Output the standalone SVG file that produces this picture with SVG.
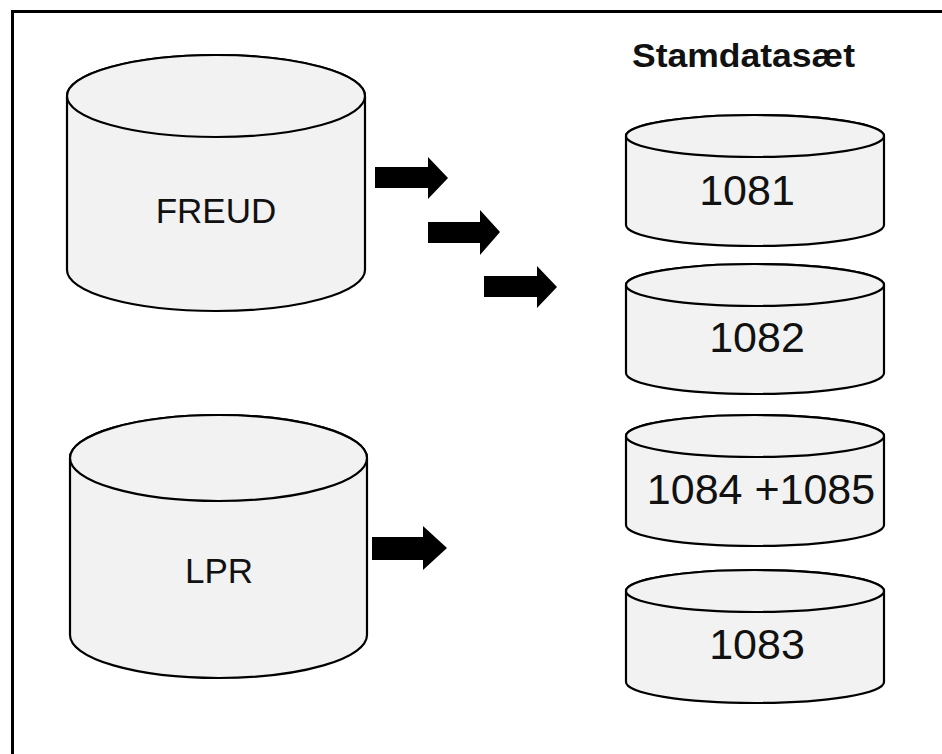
<svg xmlns="http://www.w3.org/2000/svg" width="942" height="754" viewBox="0 0 942 754">
<style>
.cyl{fill:#f2f2f2;stroke:#000;stroke-width:2.2}
.lbl{font-family:"Liberation Sans",Arial,sans-serif;fill:#111;text-anchor:middle}
.arr{fill:#000}
</style>
<rect width="942" height="754" fill="#fff"/>
<g id="frame">
<rect x="11" y="10" width="931" height="3" fill="#000"/>
<rect x="11" y="10" width="3" height="744" fill="#000"/>
</g>
<text x="632" y="67" font-family="Liberation Sans,Arial,sans-serif" font-weight="bold" font-size="33" textLength="223" lengthAdjust="spacingAndGlyphs" fill="#111">Stamdatasæt</text>
<g id="freud">
<path class="cyl" d="M67,96 A149,41 0 0 1 365,96 V270 A149,41 0 0 1 67,270 Z"/>
<ellipse class="cyl" cx="216" cy="96" rx="149" ry="41"/>
<text class="lbl" x="216" y="223" font-size="35">FREUD</text>
</g>
<g id="lpr">
<path class="cyl" d="M70,458 A148.5,43 0 0 1 367,458 V635 A148.5,43 0 0 1 70,635 Z"/>
<ellipse class="cyl" cx="218.5" cy="458" rx="148.5" ry="43"/>
<text class="lbl" x="219" y="583" font-size="35">LPR</text>
</g>
<g id="ds1081">
<path class="cyl" d="M626,136 A129,21 0 0 1 884,136 V225 A129,21 0 0 1 626,225 Z"/>
<ellipse class="cyl" cx="755" cy="136" rx="129" ry="21"/>
<text class="lbl" x="747" y="205" font-size="43">1081</text>
</g>
<g id="ds1082">
<path class="cyl" d="M626,285 A129,21 0 0 1 884,285 V373 A129,21 0 0 1 626,373 Z"/>
<ellipse class="cyl" cx="755" cy="285" rx="129" ry="21"/>
<text class="lbl" x="757" y="352" font-size="43">1082</text>
</g>
<g id="ds1084">
<path class="cyl" d="M626,436 A129,21 0 0 1 884,436 V525 A129,21 0 0 1 626,525 Z"/>
<ellipse class="cyl" cx="755" cy="436" rx="129" ry="21"/>
<text class="lbl" x="761" y="504" font-size="43">1084 +1085</text>
</g>
<g id="ds1083">
<path class="cyl" d="M626,591 A129,21 0 0 1 884,591 V682 A129,21 0 0 1 626,682 Z"/>
<ellipse class="cyl" cx="755" cy="591" rx="129" ry="21"/>
<text class="lbl" x="757" y="659" font-size="43">1083</text>
</g>
<g id="connectors">
<polygon class="arr" points="375,167 428,167 428,157 448,178 428,199 428,188 375,188"/>
<polygon class="arr" points="428,222 480,222 480,210 500,232 480,255 480,243 428,243"/>
<polygon class="arr" points="484,276 537,276 537,266 557,287 537,308 537,297 484,297"/>
<polygon class="arr" points="372,537 423,537 423,526 447,548 423,570 423,560 372,560"/>
</g>
</svg>
